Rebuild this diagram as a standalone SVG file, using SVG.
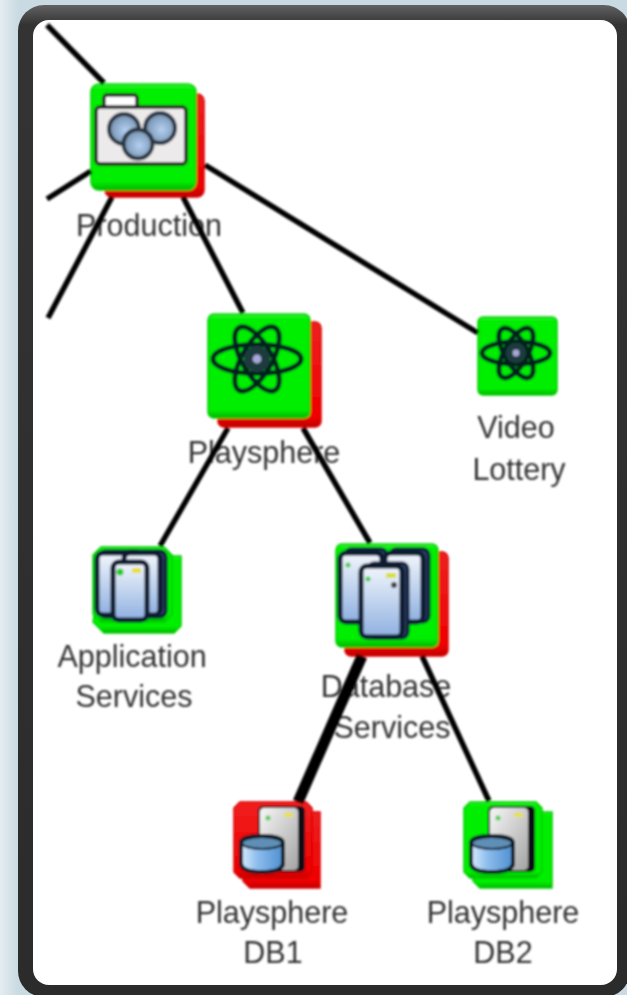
<svg xmlns="http://www.w3.org/2000/svg" width="627" height="995" viewBox="0 0 627 995">
<defs>
<linearGradient id="bg" x1="0" y1="0" x2="1" y2="0"><stop offset="0" stop-color="#e4edf1"/><stop offset="0.03" stop-color="#c9dae2"/><stop offset="1" stop-color="#c9dae2"/></linearGradient>
<linearGradient id="frame" x1="0" y1="0" x2="0" y2="1"><stop offset="0" stop-color="#626262"/><stop offset="0.02" stop-color="#333"/><stop offset="1" stop-color="#2b2b2b"/></linearGradient>
<linearGradient id="srv" x1="0" y1="0" x2="0" y2="1"><stop offset="0" stop-color="#f2f6fc"/><stop offset="1" stop-color="#8fb0e0"/></linearGradient>
<linearGradient id="cyl" x1="0" y1="0" x2="1" y2="0"><stop offset="0" stop-color="#d8ecff"/><stop offset="0.4" stop-color="#8cbcec"/><stop offset="1" stop-color="#4f8fd0"/></linearGradient>
<linearGradient id="tower" x1="0" y1="0" x2="1" y2="1"><stop offset="0" stop-color="#f6f6f6"/><stop offset="1" stop-color="#a4a4a4"/></linearGradient>
<linearGradient id="gf" x1="0" y1="0" x2="0" y2="1"><stop offset="0" stop-color="#34f034"/><stop offset="0.05" stop-color="#00ee00"/><stop offset="0.92" stop-color="#00ee00"/><stop offset="1" stop-color="#00b400"/></linearGradient>
<linearGradient id="rf" x1="0" y1="0" x2="0" y2="1"><stop offset="0" stop-color="#f02020"/><stop offset="0.9" stop-color="#f00000"/><stop offset="1" stop-color="#c00000"/></linearGradient>
<radialGradient id="ball" cx="0.55" cy="0.55" r="0.6"><stop offset="0" stop-color="#b4d0f2"/><stop offset="1" stop-color="#6e8aa8"/></radialGradient>
<filter id="soft" x="-5%" y="-5%" width="110%" height="110%"><feGaussianBlur stdDeviation="0.8"/></filter>
<g id="atom" fill="none" stroke="#06201f" stroke-width="5">
<ellipse rx="1" ry="0.33" vector-effect="non-scaling-stroke"/>
<ellipse rx="0.82" ry="0.34" transform="rotate(60)" vector-effect="non-scaling-stroke"/>
<ellipse rx="0.82" ry="0.34" transform="rotate(-60)" vector-effect="non-scaling-stroke"/>
<circle r="0.3" fill="#1c3a3e" stroke="none"/>
<circle r="0.1" fill="#a8a8d8" stroke="none"/>
</g>
<g id="dbicon">
<rect x="20" y="2" width="47" height="66" rx="5" fill="#0e0e12"/>
<rect x="22" y="4" width="38" height="62" rx="4" fill="url(#tower)"/>
<circle cx="30" cy="14" r="2.500" fill="#55cc55"/>
<rect x="46" y="9" width="9" height="4" fill="#e8e040"/>
<path d="M3 39 Q3 32 24 32 Q45 32 45 39 V59 Q45 68 24 68 Q3 68 3 59 Z" fill="url(#cyl)" stroke="#0a1420" stroke-width="4"/>
<ellipse cx="24" cy="39" rx="20" ry="6" fill="#5f8fb6" stroke="#0a1420" stroke-width="2"/>
</g>
</defs>
<style>
.lbl{font-family:"Liberation Sans",Arial,sans-serif;font-size:30.5px;fill:#333;text-anchor:middle}
.g{fill:url(#gf);stroke:#00d000;stroke-width:1.5}
.r{fill:url(#rf);stroke:#d80000;stroke-width:1.5}
.s{fill:url(#srv);stroke:#0c1a30;stroke-width:5}
.sb{fill:#2a3e62;stroke:#0c1a30;stroke-width:3}
.c{fill:none;stroke:#000;stroke-width:5.500;stroke-linecap:butt}
</style>
<rect width="627" height="995" fill="url(#bg)"/>
<rect x="18" y="5" width="612" height="992" rx="26" fill="url(#frame)"/>
<rect x="33" y="20" width="584" height="965" rx="16" fill="#fff"/>
<g filter="url(#soft)">
<g id="production">
<rect class="r" x="105" y="94" width="99" height="103" rx="7"/>
<rect class="g" x="91" y="84" width="105" height="106" rx="8"/>
<rect x="104" y="95" width="33" height="18" rx="3" fill="#fff" stroke="#222" stroke-width="3.500"/>
<rect x="96" y="107" width="90" height="57" rx="4" fill="#eceaea" stroke="#1c1c1c" stroke-width="3.500"/>
<circle cx="124" cy="129" r="15" fill="url(#ball)" stroke="#2a3440" stroke-width="4"/>
<circle cx="160" cy="128" r="15" fill="url(#ball)" stroke="#2a3440" stroke-width="4"/>
<circle cx="138" cy="144" r="14.500" fill="url(#ball)" stroke="#2a3440" stroke-width="4"/>
<text class="lbl" x="149" y="236">Production</text>
</g>
<g id="playsphere">
<rect class="r" x="218" y="322" width="103" height="105" rx="6"/>
<rect class="g" x="208" y="314" width="102" height="104" rx="6"/>
<use href="#atom" transform="translate(257,359) scale(44)"/>
<text class="lbl" x="264" y="463">Playsphere</text>
</g>
<g id="video-lottery">
<rect class="g" x="478" y="317" width="79" height="78" rx="5"/>
<use href="#atom" transform="translate(516,353) scale(34)"/>
<text class="lbl" x="516" y="438">Video</text>
<text class="lbl" x="519" y="480">Lottery</text>
</g>
<g id="application-services">
<path class="g" d="M103 556H181V626L174 633H104L93 622Z"/>
<path class="g" d="M101 547H164L172 555V614L165 622H101L93 614V555Z"/>
<rect class="sb" x="99" y="551" width="44" height="66" rx="6"/>
<rect class="s" x="97" y="553" width="38" height="62" rx="6"/>
<rect class="sb" x="124" y="551" width="42" height="66" rx="6"/>
<rect class="s" x="124" y="553" width="36" height="62" rx="6"/>
<rect class="s" x="113" y="562" width="34" height="58" rx="6"/>
<circle cx="120" cy="572" r="3.500" fill="#22cc22"/>
<rect x="132" y="568" width="9" height="5" fill="#e8e030"/>
<text class="lbl" x="132" y="667">Application</text>
<text class="lbl" x="134" y="707">Services</text>
</g>
<g id="database-services">
<rect class="r" x="345" y="552" width="103" height="104" rx="6"/>
<rect class="g" x="336" y="544" width="102" height="103" rx="6"/>
<rect class="sb" x="345" y="549" width="42" height="73" rx="6"/>
<rect class="s" x="340" y="553" width="42" height="69" rx="6"/>
<rect class="sb" x="390" y="549" width="39" height="73" rx="6"/>
<rect class="s" x="385" y="553" width="38" height="69" rx="6"/>
<rect class="sb" x="368" y="563" width="40" height="75" rx="6"/>
<rect class="s" x="361" y="566" width="41" height="71" rx="6"/>
<rect x="386" y="573" width="10" height="5" fill="#d8e030"/>
<circle cx="394" cy="585" r="3" fill="#444"/>
<circle cx="368" cy="579" r="2.500" fill="#44cc44"/>
<circle cx="348" cy="565" r="2.500" fill="#44cc44"/>
<text class="lbl" x="386" y="697">Database</text>
<text class="lbl" x="392" y="738">Services</text>
</g>
<g id="playsphere-db1">
<path class="r" d="M243 812H320V888H250L243 881Z"/>
<path class="r" d="M240 802H306L312 808V872L306 878H240L234 872V808Z"/>
<use href="#dbicon" transform="translate(238,804)"/>
<text class="lbl" x="272" y="923">Playsphere</text>
<text class="lbl" x="273" y="963">DB1</text>
</g>
<g id="playsphere-db2">
<path class="g" d="M473 812H552V888H480L473 881Z"/>
<path class="g" d="M470 802H536L542 808V872L536 878H470L464 872V808Z"/>
<use href="#dbicon" transform="translate(468,804)"/>
<text class="lbl" x="503" y="923">Playsphere</text>
<text class="lbl" x="503" y="963">DB2</text>
</g>
<g id="connectors">
<line class="c" x1="47" y1="25" x2="104" y2="83"/>
<line class="c" x1="47" y1="199" x2="91" y2="171"/>
<line class="c" x1="48" y1="318" x2="112" y2="197"/>
<line class="c" x1="183" y1="197" x2="243" y2="313"/>
<line class="c" x1="205" y1="165" x2="478" y2="333"/>
<line class="c" x1="228" y1="428" x2="160" y2="546"/>
<line class="c" x1="303" y1="428" x2="370" y2="543"/>
<line class="c" style="stroke-width:11" x1="362" y1="656" x2="298" y2="802"/>
<line class="c" x1="422" y1="656" x2="489" y2="801"/>
</g>
</g>
</svg>
